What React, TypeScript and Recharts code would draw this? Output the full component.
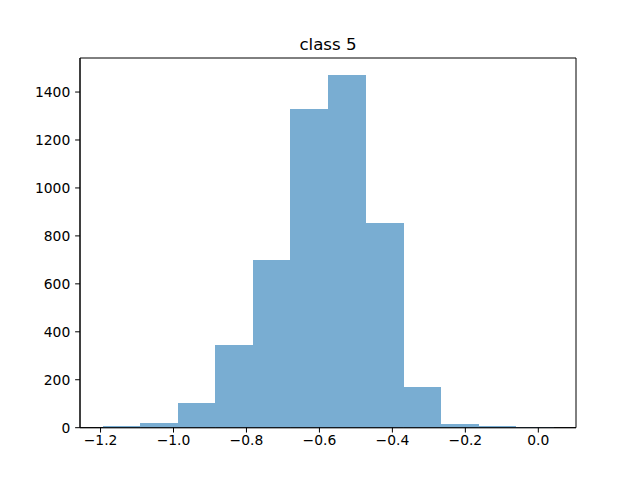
import React from 'react';
import { ComposedChart, Bar, XAxis, YAxis, ReferenceArea } from 'recharts';

// Histogram bin centers (x values) and counts
const binCenters = [-1.143, -1.040, -0.937, -0.834, -0.731, -0.628, -0.525, -0.422, -0.319, -0.216, -0.113, -0.010];
const binCounts = [7, 19, 104, 345, 699, 1330, 1470, 854, 171, 16, 7, 1];
const xTicks = [-1.2, -1.0, -0.8, -0.6, -0.4, -0.2, 0.0];
const yTicks = [0, 200, 400, 600, 800, 1000, 1200, 1400];
const xDomain = [-1.2563, 0.1033];
const yDomain = [0, 1542];
const title = 'class 5';

const data = binCenters.map((c, i) => ({ center: c, count: binCounts[i] }));

const fmt = (v: number) => {
  const s = Math.abs(v) < 1e-9 ? '0.0' : v.toFixed(1);
  return s.replace('-', '\u2212');
};

const font = 'DejaVu Sans, sans-serif';
const tickStyle = { fill: '#000', fontSize: 13.89, fontFamily: font };

export default function App() {
  return (
    <div style={{ position: 'absolute', left: 0, top: 0, width: 640, height: 480, background: '#fff' }}>
      <svg width={640} height={480} style={{ position: 'absolute', left: 0, top: 0, pointerEvents: 'none', zIndex: 2 }}>
        <text x={328} y={49.7} textAnchor="middle" fontFamily={font} fontSize={16.67} fill="#000">
          {title}
        </text>
      </svg>
      <ComposedChart
        width={640}
        height={480}
        data={data}
        margin={{ top: 58, right: 64, left: 0, bottom: 0 }}
        barCategoryGap={0}
        barGap={0}
      >
        <XAxis
          dataKey="center"
          type="number"
          domain={xDomain}
          allowDataOverflow
          ticks={xTicks}
          interval={0}
          tickFormatter={fmt}
          height={52.3}
          tickSize={4.86}
          tickMargin={3}
          tick={tickStyle}
          tickLine={{ stroke: '#000', strokeWidth: 1 }}
          axisLine={{ stroke: '#000', strokeWidth: 1 }}
        />
        <YAxis
          type="number"
          domain={yDomain}
          allowDataOverflow
          ticks={yTicks}
          interval={0}
          width={80}
          tickSize={4.86}
          tickMargin={4.86}
          tick={tickStyle}
          tickLine={{ stroke: '#000', strokeWidth: 1 }}
          axisLine={{ stroke: '#000', strokeWidth: 1 }}
        />
        <Bar dataKey="count" fill="#79add2" shapeRendering="crispEdges" isAnimationActive={false} />
        <ReferenceArea
          x1={xDomain[0]}
          x2={xDomain[1]}
          y1={yDomain[0]}
          y2={yDomain[1]}
          fill="none"
          stroke="#000"
          strokeWidth={1}
          ifOverflow="visible"
        />
      </ComposedChart>
    </div>
  );
}
